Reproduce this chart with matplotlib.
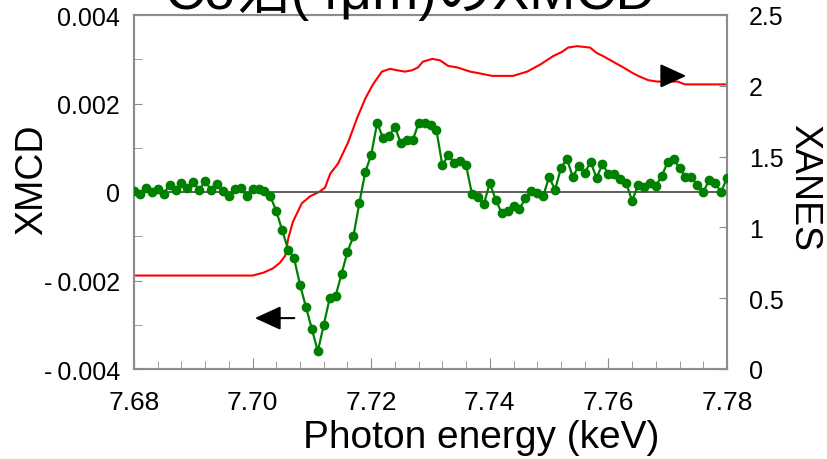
import matplotlib
matplotlib.use("Agg")
import matplotlib.pyplot as plt
import numpy as np

plt.rcParams['font.family'] = ['Liberation Sans', 'Noto Sans CJK JP', 'DejaVu Sans']

# XMCD (left axis), one point every 1 eV from 7.680 to 7.780 keV
xmcd_energy = np.round(np.arange(7.680, 7.7805, 0.001), 3)
xmcd = np.array([
    0.02, -0.05, 0.10, 0.00, 0.07, -0.04, 0.16, 0.05, 0.20, 0.10,
    0.22, 0.04, 0.25, 0.04, 0.17, 0.02, -0.10, 0.06, 0.10, -0.10,
    0.07, 0.07, 0.02, -0.10, -0.43, -0.87, -1.30, -1.50, -2.10, -2.60,
    -3.10, -3.60, -3.00, -2.40, -2.35, -1.85, -1.35, -1.00, -0.25, 0.45,
    0.84, 1.56, 1.22, 1.27, 1.47, 1.10, 1.17, 1.17, 1.56, 1.56,
    1.52, 1.40, 0.60, 0.84, 0.65, 0.70, 0.60, -0.05, -0.11, -0.27,
    0.20, -0.18, -0.47, -0.43, -0.32, -0.38, -0.14, 0.02, -0.02, -0.09,
    0.34, 0.05, 0.54, 0.75, 0.34, 0.59, 0.43, 0.68, 0.32, 0.63,
    0.41, 0.41, 0.30, 0.20, -0.20, 0.16, 0.11, 0.20, 0.14, 0.36,
    0.68, 0.75, 0.54, 0.34, 0.34, 0.16, 0.00, 0.27, 0.20, 0.00,
    0.32]) * 1e-3

# XANES (right axis)
xanes_energy = [7.6800, 7.7000, 7.7018, 7.7034, 7.7046, 7.7055, 7.7060, 7.7068,
                7.7083, 7.7097, 7.7112, 7.7122, 7.7131, 7.7144, 7.7161, 7.7176,
                7.7190, 7.7203, 7.7218, 7.7232, 7.7243, 7.7257, 7.7269, 7.7279,
                7.7287, 7.7303, 7.7316, 7.7330, 7.7345, 7.7367, 7.7380, 7.7392,
                7.7404, 7.7439, 7.7463, 7.7485, 7.7507, 7.7522, 7.7532, 7.7547,
                7.7569, 7.7581, 7.7591, 7.7608, 7.7625, 7.7641, 7.7650, 7.7667,
                7.7682, 7.7717, 7.7729, 7.7800]
xanes = [0.66, 0.66, 0.68, 0.71, 0.75, 0.80, 0.92, 1.04,
         1.17, 1.22, 1.25, 1.28, 1.38, 1.45, 1.60, 1.77,
         1.91, 2.01, 2.10, 2.12, 2.11, 2.10, 2.11, 2.13,
         2.17, 2.19, 2.18, 2.14, 2.13, 2.10, 2.09, 2.08,
         2.07, 2.07, 2.10, 2.15, 2.21, 2.24, 2.27, 2.28,
         2.27, 2.23, 2.21, 2.17, 2.13, 2.09, 2.07, 2.04,
         2.03, 2.03, 2.01, 2.01]

x_ticks = [7.68, 7.70, 7.72, 7.74, 7.76, 7.78]
x_ticklabels = ["7.68", "7.70", "7.72", "7.74", "7.76", "7.78"]
left_ticks = [-0.004, -0.002, 0, 0.002, 0.004]
left_ticklabels = ["-\u20090.004", "-\u20090.002", "0", "0.002", "0.004"]
right_ticks = [0, 0.5, 1, 1.5, 2, 2.5]
right_ticklabels = ["0", "0.5", "1", "1.5", "2", "2.5"]

fig = plt.figure(figsize=(8.27, 4.60), dpi=100)
ax = fig.add_axes([134/827, 90/460, 593/827, 354/460])
ax2 = ax.twinx()

spine_col = "#8c8c8c"

ax.axhline(0, color="#505050", lw=1.3, zorder=1)
ax2.plot(xanes_energy, xanes, color="red", lw=1.5, zorder=2)
ax.plot(xmcd_energy, xmcd, "-o", color="#008000", lw=1.6, ms=6, zorder=3)

ax.set_zorder(ax2.get_zorder() + 1)
ax.patch.set_visible(False)

ax.set_xlim(7.68, 7.78)
ax.set_ylim(-0.004, 0.004)
ax2.set_ylim(0, 2.5)

ax.set_xticks(x_ticks)
ax.set_xticklabels(x_ticklabels, fontsize=19)
ax.set_xticks(np.arange(7.68, 7.7801, 0.004), minor=True)
ax.set_yticks(left_ticks)
ax.set_yticklabels(left_ticklabels, fontsize=18)
ax.set_yticks(np.arange(-0.004, 0.00401, 0.001), minor=True)
ax2.set_yticks(right_ticks)
ax2.set_yticklabels(right_ticklabels, fontsize=18)

ax.tick_params(axis="x", which="both", direction="in", color=spine_col, pad=15)
ax.tick_params(axis="x", which="major", length=8)
ax.tick_params(axis="x", which="minor", length=6)
ax.tick_params(axis="y", which="both", direction="in", length=6, color=spine_col, pad=10)
ax2.tick_params(axis="y", direction="in", length=6, color=spine_col, pad=16)

for a in (ax, ax2):
    for s in a.spines.values():
        s.set_color(spine_col)
        s.set_linewidth(1.5)

# arrows showing which axis each curve belongs to
arrow_style = dict(arrowstyle="-|>,head_length=0.7,head_width=0.32",
                   color="black", lw=1.5, mutation_scale=23)
ax.annotate("", xy=(7.6999, -0.00285), xytext=(7.7075, -0.00285), arrowprops=arrow_style)
ax2.annotate("", xy=(7.7736, 2.07), xytext=(7.7685, 2.07), arrowprops=arrow_style)

fig.text(32/827, 1 - 180/460, "XMCD", rotation=90, fontsize=27, ha="center", va="center")
fig.text(804/827, 1 - 188/460, "XANES", rotation=270, fontsize=27, ha="center", va="center")
fig.text(481/827, 1 - 448/460, "Photon energy (keV)", fontsize=28, ha="center", va="baseline")
fig.text(410/827, 1 - 9/460, "Co箔(4μm)のXMCD", fontsize=40, ha="center", va="baseline")

fig.savefig("out.png", dpi=100)
